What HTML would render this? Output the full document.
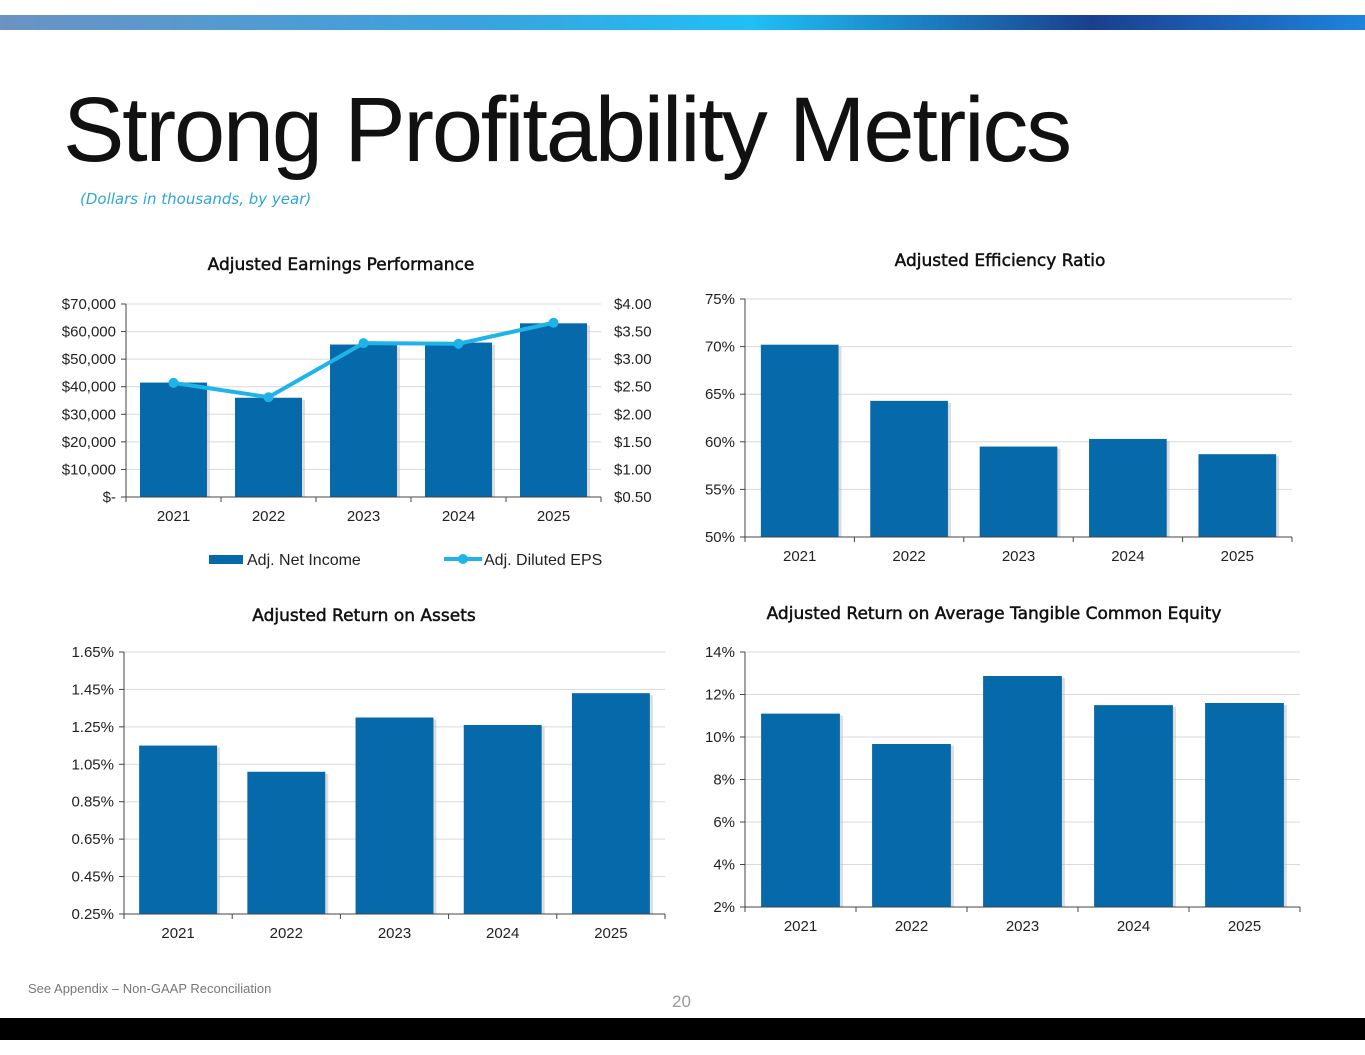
<!DOCTYPE html>
<html><head><meta charset="utf-8"><style>
body{margin:0;width:1365px;height:1055px;background:#fff;position:relative;overflow:hidden;font-family:"Liberation Sans",sans-serif}
#topbar{position:absolute;left:0;top:15px;width:1365px;height:15px;background:linear-gradient(90deg,#6b93c4 0%,#3aa2de 35%,#1fc0f4 55%,#1a3f8f 80%,#1e84dc 100%)}
#title{position:absolute;left:63px;top:78px;font-size:92px;color:#111;letter-spacing:-2.2px;white-space:nowrap}
#sub{position:absolute;left:80px;top:190px;font-size:15px;font-style:italic;color:#2ea6d8;font-family:"DejaVu Sans",sans-serif}
#foot{position:absolute;left:28px;top:981px;font-size:13px;color:#777}
#pg{position:absolute;left:672px;top:992px;font-size:17px;color:#999}
#bottombar{position:absolute;left:0;top:1018px;width:1365px;height:22px;background:#000}
svg{position:absolute;left:0;top:0}
</style></head><body>
<div id="topbar"></div>
<div id="title">Strong Profitability Metrics</div>
<div id="sub">(Dollars in thousands, by year)</div>
<svg id="chart" width="1365" height="1055"></svg>
<div id="foot">See Appendix – Non-GAAP Reconciliation</div>
<div id="pg">20</div>
<div id="bottombar"></div>
<script>
const years=["2021","2022","2023","2024","2025"];
const netIncome=[41500,36000,55300,56000,63000];
const eps=[2.57,2.31,3.29,3.28,3.66];
const effRatio=[70.2,64.3,59.5,60.3,58.7];
const roa=[1.15,1.01,1.30,1.26,1.43];
const roatce=[11.1,9.67,12.87,11.5,11.6];
const niTicks=["$-","$10,000","$20,000","$30,000","$40,000","$50,000","$60,000","$70,000"];
const epsTicks=["$0.50","$1.00","$1.50","$2.00","$2.50","$3.00","$3.50","$4.00"];
const effTicks=["50%","55%","60%","65%","70%","75%"];
const roaTicks=["0.25%","0.45%","0.65%","0.85%","1.05%","1.25%","1.45%","1.65%"];
const roatceTicks=["2%","4%","6%","8%","10%","12%","14%"];

const svg=document.getElementById('chart');
const NS="http://www.w3.org/2000/svg";
function mk(tag,attrs,parent){const e=document.createElementNS(NS,tag);for(const k in attrs)e.setAttribute(k,attrs[k]);(parent||svg).appendChild(e);return e;}
function txt(x,y,s,anchor,size,weight,parent){const t=mk('text',{x:x,y:y,'text-anchor':anchor,'font-size':size,'font-weight':weight||'normal',fill:'#222','font-family':'Liberation Sans, sans-serif'},parent);t.textContent=s;return t;}
const BLUE="#0569aa";
function chart(o){
  const g=mk('g',{});
  
  
  const y=v=>o.y1-(v-o.min)/(o.max-o.min)*(o.y1-o.y0);
  const cw=(o.x1-o.x0)/o.cats.length;
  const tn=o.ticks.length;
  for(let i=0;i<tn;i++){const v=o.min+(o.max-o.min)*i/(tn-1);const yy=y(v);
    if(i>0)mk('line',{x1:o.x0,x2:o.x1,y1:yy,y2:yy,stroke:'#d9d9d9','stroke-width':1},g);
    mk('line',{x1:o.x0-5,x2:o.x0,y1:yy,y2:yy,stroke:'#444'},g);
    const t=txt(o.x0-10,yy+5,o.ticks[i],'end',15,'normal',g);
    
    
  }
  o.vals.forEach((v,i)=>{const cx=o.x0+cw*(i+0.5);const bw=cw*o.bwr;
    mk('rect',{x:cx-bw/2+3,y:y(v)+2,width:bw,height:o.y1-y(v)-2,fill:'#bbb',opacity:0.5},g);
    const r=mk('rect',{x:cx-bw/2,y:y(v),width:bw,height:o.y1-y(v),fill:BLUE},g);
    
    
    const t=txt(cx,o.y1+24,o.cats[i],'middle',15,'normal',g);
    
    
  });
  mk('line',{x1:o.x0,x2:o.x0,y1:o.y0,y2:o.y1,stroke:'#444'},g);
  mk('line',{x1:o.x0,x2:o.x1,y1:o.y1,y2:o.y1,stroke:'#444'},g);
  for(let i=0;i<=o.cats.length;i++){const xx=o.x0+cw*i;mk('line',{x1:xx,x2:xx,y1:o.y1,y2:o.y1+5,stroke:'#444'},g);}
  const tt=txt(o.tx,o.ty,o.title,'middle',17,'bold',g);
  tt.setAttribute('font-family','DejaVu Sans, sans-serif');tt.setAttribute('fill','#111');tt.setAttribute('font-weight','normal');tt.setAttribute('stroke','#111');tt.setAttribute('stroke-width','0.5');
  
  
  return {g,y,cw};
}
const c1=chart({name:'earnings-chart',cats:years,vals:netIncome,ticks:niTicks,min:0,max:70000,x0:126,x1:601,y0:304,y1:497,bwr:0.705,title:'Adjusted Earnings Performance',tx:341,ty:270});
const ye=v=>497-(v-0.5)/3.5*193;
epsTicks.forEach((s,i)=>{const t=txt(614,ye(0.5+i*0.5)+5,s,'start',15,'normal',c1.g);
  
  });
const pts=eps.map((v,i)=>[126+c1.cw*(i+0.5),ye(v)]);
const pl=mk('polyline',{points:pts.map(p=>p.join(',')).join(' '),fill:'none',stroke:'#1fb4e8','stroke-width':4},c1.g);


pts.forEach(p=>{const c=mk('circle',{cx:p[0],cy:p[1],r:5,fill:'#1fb4e8'},c1.g);
  
  });
const lg=mk('g',{});


mk('rect',{x:209,y:555,width:34,height:9,fill:BLUE},lg);
txt(247,565,'Adj. Net Income','start',16,'normal',lg);
mk('line',{x1:444,x2:482,y1:559,y2:559,stroke:'#1fb4e8','stroke-width':4},lg);
mk('circle',{cx:463,cy:559,r:5,fill:'#1fb4e8'},lg);
txt(484,565,'Adj. Diluted EPS','start',16,'normal',lg);

chart({name:'efficiency-chart',cats:years,vals:effRatio,ticks:effTicks,min:50,max:75,x0:745,x1:1292,y0:299,y1:537,bwr:0.71,title:'Adjusted Efficiency Ratio',tx:1000,ty:266});
chart({name:'roa-chart',cats:years,vals:roa,ticks:roaTicks,min:0.25,max:1.65,x0:124,x1:665,y0:652,y1:914,bwr:0.72,title:'Adjusted Return on Assets',tx:364,ty:621});
chart({name:'roatce-chart',cats:years,vals:roatce,ticks:roatceTicks,min:2,max:14,x0:745,x1:1300,y0:652,y1:907,bwr:0.71,title:'Adjusted Return on Average Tangible Common Equity',tx:994,ty:619});
</script>
</body></html>
